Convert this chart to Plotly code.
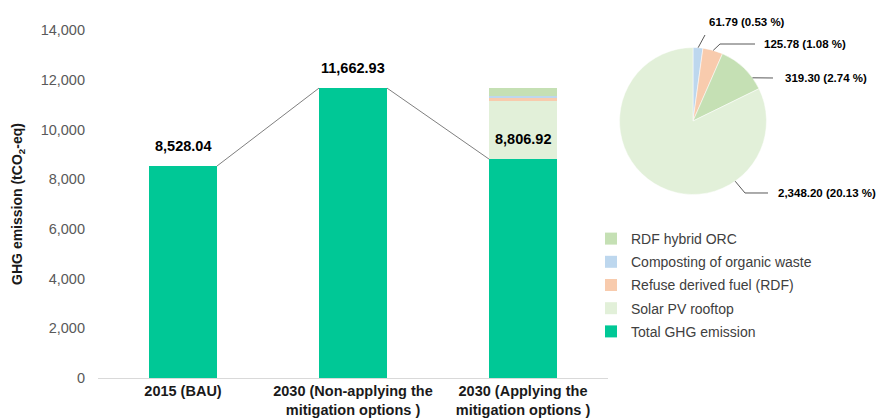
import numpy as np
import plotly.graph_objects as go

# ---------------- data ----------------
categories = ["2015 (BAU)",
              "2030 (Non-applying the<br>mitigation options )",
              "2030 (Applying the<br>mitigation options )"]
total_ghg = [8528.04, 11662.93, 8806.92]          # Total GHG emission
solar_pv = [None, None, 2348.20]                    # Solar PV rooftop
rdf = [None, None, 125.78]                          # Refuse derived fuel (RDF)
composting = [None, None, 61.79]                    # Composting of organic waste
rdf_orc = [None, None, 319.30]                      # RDF hybrid ORC
y_ticks = [0, 2000, 4000, 6000, 8000, 10000, 12000, 14000]

pie_labels = ["Composting of organic waste", "Refuse derived fuel (RDF)",
              "RDF hybrid ORC", "Solar PV rooftop"]
pie_values = [61.79, 125.78, 319.30, 2348.20]
pie_base_total = 11662.93

# ---------------- style ----------------
FONT = "Liberation Sans, Arial, sans-serif"
C_TOTAL = "#00C896"
C_SOLAR = "#E2F0D9"
C_RDF = "#F8CBAD"
C_COMP = "#BDD7EE"
C_ORC = "#C5E0B4"
pie_colors = [C_COMP, C_RDF, C_ORC, C_SOLAR]

W, H = 878, 419
ML, MR, MT, MB = 98, 10, 30, 41
PW, PH = W - ML - MR, H - MT - MB
BAR_W = 0.4
X_DOMAIN_RIGHT = (608 - ML) / PW

def px2paper(px, py):
    return (px - ML) / PW, (H - MB - py) / PH

# pie placement (pixels)
PCX, PCY, PR = 693, 121, 73.5
cx, cy = px2paper(PCX, PCY)
rx, ry = PR / PW, PR / PH

xs = list(range(len(categories)))

fig = go.Figure()
series = [
    ("Total GHG emission", total_ghg, C_TOTAL, 5),
    ("Solar PV rooftop", solar_pv, C_SOLAR, 4),
    ("Refuse derived fuel (RDF)", rdf, C_RDF, 3),
    ("Composting of organic waste", composting, C_COMP, 2),
    ("RDF hybrid ORC", rdf_orc, C_ORC, 1),
]
for name, vals, col, rank in series:
    fig.add_trace(go.Bar(x=xs, y=vals, name=name, width=BAR_W,
                         marker=dict(color=col, line=dict(width=0)),
                         legendgroup=name, legendrank=rank, hoverinfo="skip"))

# connector lines between bar tops
for i in range(len(xs) - 1):
    fig.add_trace(go.Scatter(x=[xs[i] + BAR_W / 2, xs[i + 1] - BAR_W / 2],
                             y=[total_ghg[i], total_ghg[i + 1]],
                             mode="lines", line=dict(color="#7F7F7F", width=1),
                             showlegend=False, hoverinfo="skip"))

# value labels
for i, v in enumerate(total_ghg):
    fig.add_annotation(x=xs[i], y=v, xref="x", yref="y", text=f"<b>{v:,.2f}</b>",
                       showarrow=False, yanchor="bottom", yshift=10,
                       font=dict(family=FONT, size=14.5, color="#000000"))

# pie
fig.add_trace(go.Pie(values=pie_values, labels=pie_labels, sort=False,
                     direction="clockwise", rotation=0,
                     marker=dict(colors=pie_colors, line=dict(color="white", width=0.5)),
                     textinfo="none", showlegend=False, hoverinfo="skip",
                     domain=dict(x=[cx - rx, cx + rx], y=[cy - ry, cy + ry])))

# pie labels with leader lines: (anchor angle, elbow px, line end px, text left px, text y px)
leaders = [
    (4, None, (705, 35), (707, 22)),
    (16, (720, 44), (755, 44), (762, 44)),
    (54, None, (773, 78), (783, 78)),
    (145, (745, 193), (768, 193), (776, 193)),
]
for v, (ang, elbow, end, txt) in zip(pie_values, leaders):
    hx = PCX + PR * np.sin(np.radians(ang))
    hy = PCY - PR * np.cos(np.radians(ang))
    pts = [(hx, hy)] + ([elbow] if elbow else []) + [end]
    path = ""
    for k, (qx, qy) in enumerate(pts):
        ppx, ppy = px2paper(qx, qy)
        path += ("M" if k == 0 else " L") + f"{ppx:.5f},{ppy:.5f}"
    fig.add_shape(type="path", path=path, xref="paper", yref="paper",
                  line=dict(color="#595959", width=1))
    tx, ty = px2paper(*txt)
    fig.add_annotation(x=tx, y=ty, xref="paper", yref="paper",
                       text=f"<b>{v:,.2f} ({v / pie_base_total * 100:.2f} %)</b>",
                       showarrow=False, xanchor="left", yanchor="middle",
                       font=dict(family=FONT, size=11.5, color="#000000"))

fig.update_layout(
    width=W, height=H, barmode="stack", bargap=0.6,
    margin=dict(l=ML, r=MR, t=MT, b=MB, autoexpand=False),
    paper_bgcolor="white", plot_bgcolor="white",
    font=dict(family=FONT, size=14, color="#404040"),
    xaxis=dict(domain=[0, X_DOMAIN_RIGHT], range=[-0.5, 2.5], tickmode="array",
               tickvals=xs, ticktext=[f"<b>{c}</b>" for c in categories],
               showline=True, linecolor="#D9D9D9", linewidth=1, ticks="",
               showgrid=False, zeroline=False, automargin=False,
               tickfont=dict(family=FONT, size=14.5, color="#1a1a1a")),
    yaxis=dict(range=[0, 14000], tickvals=y_ticks, ticktext=[f"{t:,}" for t in y_ticks],
               showgrid=False, zeroline=False, showline=False, ticks="",
               ticklabelstandoff=12, automargin=False,
               tickfont=dict(family=FONT, size=14.5, color="#595959"),
               title=dict(text="<b>GHG emission (tCO<sub>2</sub>-eq)</b>", standoff=14,
                          font=dict(family=FONT, size=14, color="#1a1a1a"))),
    legend=dict(x=(591 - ML) / PW, xanchor="left", y=px2paper(0, 223)[1], yanchor="top",
                traceorder="grouped", tracegroupgap=2,
                font=dict(family=FONT, size=14, color="#404040"),
                bgcolor="rgba(0,0,0,0)"),
    showlegend=True,
)

fig.write_html("out.html",
               config={"displayModeBar": False},
               post_script="document.body.style.margin='0';document.body.style.overflow='hidden';")
